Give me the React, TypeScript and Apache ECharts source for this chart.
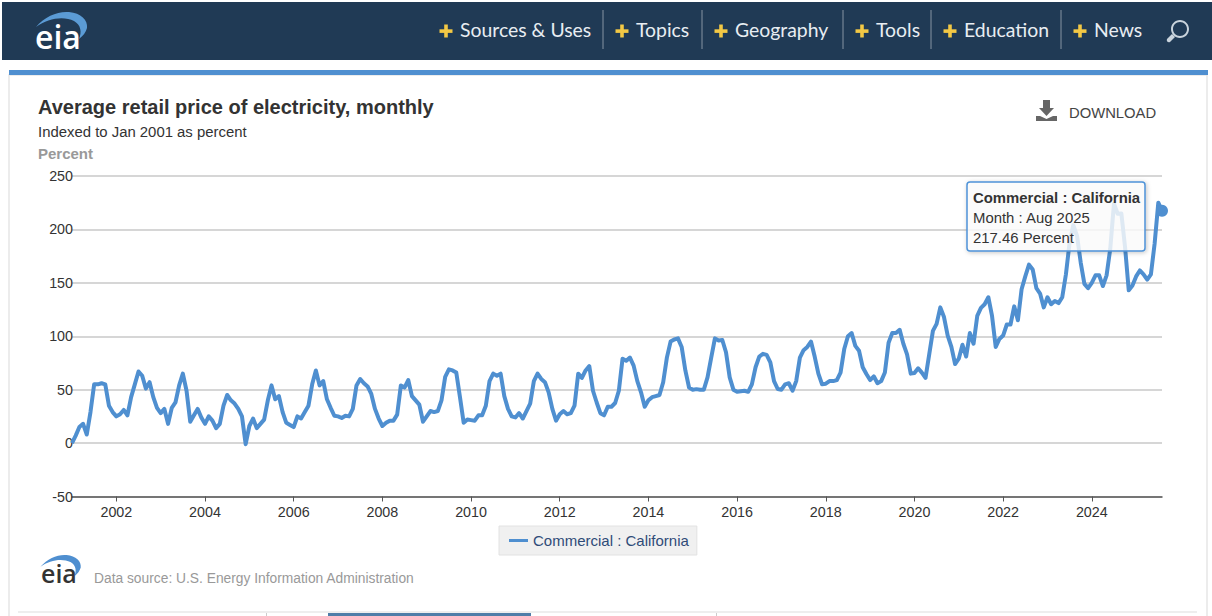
import React, { useEffect, useRef } from "react";
import * as echarts from "echarts";

const seriesName = "Commercial : California";
const startYear = 2001;
const endYear = 2025;
const lastMonth = 8;
const monthNames = ["Jan", "Feb", "Mar", "Apr", "May", "Jun", "Jul", "Aug", "Sep", "Oct", "Nov", "Dec"];

const priceIndex = [
  0, 7, 15, 18, 8, 29, 55, 55, 56, 55, 35, 29,
  25, 27, 31, 26, 43, 55, 67, 63, 51, 57, 43, 33,
  28, 32, 18, 33, 38, 54, 65, 49, 20, 26, 32, 24,
  18, 25, 21, 14, 18, 35, 45, 40, 37, 32, 25, -1,
  16, 23, 14, 18, 22, 40, 54, 41, 44, 29, 19, 17,
  15, 25, 23, 29, 35, 55, 68, 54, 58, 41, 33, 25.6,
  25, 23.5, 25.6, 25, 32, 54, 60, 56, 53, 46, 32, 23,
  16, 19, 21, 21, 26.6, 54, 52, 59, 44, 40, 36, 20,
  25, 30, 29, 30, 40, 62, 69, 68, 66, 43, 19, 22,
  21.5, 21, 26, 26, 35, 58, 65, 63, 65, 44, 32, 25,
  24, 28, 23, 30, 37, 58, 65, 60, 57, 47.5, 32, 21,
  27, 30, 27, 28, 35, 65, 61, 68, 72, 49, 38, 28,
  26, 34, 34, 37.5, 49, 79, 77, 80, 72.5, 58, 47.5, 34,
  40, 43, 44, 45, 57, 80, 95, 97, 98, 90, 68, 52,
  50, 50.5, 50, 50, 61.5, 80, 98, 96, 96.5, 85, 61.5, 50,
  48, 48.5, 49, 48, 55, 71, 81, 83.5, 82.5, 75.6, 58, 50.6,
  50, 55, 56, 49, 58, 80, 87, 90, 95, 81, 65, 55,
  55.6, 58, 58, 59, 66, 88, 100, 103, 91, 86.5, 71, 64.7,
  59, 62.5, 56, 58, 66, 94, 103, 103, 106, 93, 83, 65,
  65.6, 70, 66, 61, 83, 105, 111.6, 127, 118, 100.6, 90, 74,
  79, 92, 81, 103, 93, 119, 126.6, 130, 136.5, 119, 90, 97.5,
  100.6, 111, 111, 128, 115, 144, 156, 167, 162.5, 145, 140, 127,
  136.5, 130, 133, 131, 136.5, 158, 188, 204, 194, 169, 149, 145,
  150, 157, 157, 147, 157, 182, 224, 214.7, 215, 183.4, 143, 147.5,
  156, 161.6, 158, 153, 158, 186.6, 225, 217.46,
];

const months: string[] = [];
for (let y = startYear; y <= endYear; y++) {
  for (let m = 1; m <= 12; m++) {
    if (y === endYear && m > lastMonth) break;
    months.push(`${y}-${String(m).padStart(2, "0")}`);
  }
}

const navItems = ["Sources & Uses", "Topics", "Geography", "Tools", "Education", "News"];
const navTextX = [460, 636, 735, 876, 964, 1094];
const navSeparators = [603, 702, 843, 931, 1061];

const LINE = "#4f8fd0";
const SANS = "'Liberation Sans', Arial, sans-serif";
const NAV_FONT = "Lato, 'Open Sans', sans-serif";

const arcPath =
  "M36 27 C45 16 58 11 69 12 C81 13 88 20 87 28 C86 32 83 36 79 39 C82 32 81 25 74 21 C64 16 48 18 36 27 Z";
const searchPath =
  "M1180 20 C1185 20 1189 24 1189 29 C1189 34 1185 38 1180 38 C1175 38 1171 34 1171 29 C1171 24 1175 20 1180 20 Z M1180 22 C1176 22 1173 25 1173 29 C1173 33 1176 36 1180 36 C1184 36 1187 33 1187 29 C1187 25 1184 22 1180 22 Z";
const handlePath = "M1172 34 L1175 37 L1170 42 C1168 43 1166 41 1167 39 Z";
const downloadPath =
  "M1043 100 L1050 100 L1050 108 L1054 108 L1046.5 116 L1039 108 L1043 108 Z M1036 116 L1040 116 L1046.5 119 L1053 116 L1057 116 L1057 121 L1036 121 Z";

echarts.graphic.registerShape("eiaArc", echarts.graphic.extendPath(arcPath as any, {}) as any);
echarts.graphic.registerShape("searchRing", echarts.graphic.extendPath(searchPath as any, {}) as any);
echarts.graphic.registerShape("searchHandle", echarts.graphic.extendPath(handlePath as any, {}) as any);
echarts.graphic.registerShape("downloadIcon", echarts.graphic.extendPath(downloadPath as any, {}) as any);

function isEvenYearJan(label: string) {
  const [y, m] = label.split("-").map(Number);
  return m === 1 && y % 2 === 0;
}

function buildGraphic() {
  const plus = (cx: number, cy: number) => [
    { type: "rect", z: 5, shape: { x: cx - 6.5, y: cy - 1.7, width: 13, height: 3.6 }, style: { fill: "#f3c845" } },
    { type: "rect", z: 5, shape: { x: cx - 1.8, y: cy - 6.5, width: 3.6, height: 13 }, style: { fill: "#f3c845" } },
  ];
  const els: any[] = [
    { type: "rect", z: -10, shape: { x: 2, y: 2, width: 1210, height: 58 }, style: { fill: "#203a55" } },
    { type: "rect", z: -10, shape: { x: 9, y: 75, width: 1198, height: 545 }, style: { fill: "#fff", stroke: "#e6e6e6", lineWidth: 1.5 } },
    { type: "rect", z: -9, shape: { x: 9, y: 70, width: 1199, height: 5 }, style: { fill: "#4f8fd0" } },
    { type: "rect", z: -9, shape: { x: 18, y: 611, width: 1179, height: 2 }, style: { fill: "#eeeeee" } },
    { type: "rect", z: -8, shape: { x: 328, y: 613, width: 203, height: 3 }, style: { fill: "#4f7da8" } },
    { type: "rect", z: -8, shape: { x: 266, y: 613, width: 1, height: 3 }, style: { fill: "#cccccc" } },
    { type: "rect", z: -8, shape: { x: 716, y: 613, width: 1, height: 3 }, style: { fill: "#cccccc" } },
    { type: "eiaArc", z: 5, style: { fill: "#5b9bd5" } },
    { type: "text", z: 5, style: { text: "eia", x: 35, y: 20, fill: "#fff", font: "600 32px 'Open Sans', sans-serif" } },
    { type: "eiaArc", z: 5, x: 12, y: 545.5, scaleX: 0.79, scaleY: 0.79, style: { fill: "#4f8fd0" } },
    { type: "text", z: 5, style: { text: "eia", x: 41, y: 560, fill: "#333", font: "600 25px 'Open Sans', sans-serif" } },
    { type: "text", z: 5, style: { text: "Data source: U.S. Energy Information Administration", x: 94, y: 571.5, fill: "#999", font: `13.8px ${SANS}` } },
    { type: "downloadIcon", z: 5, style: { fill: "#666" } },
    { type: "text", z: 5, style: { text: "DOWNLOAD", x: 1069, y: 105, fill: "#444", font: `14.8px ${SANS}` } },
    { type: "searchRing", z: 5, style: { fill: "#c9d3dc" } },
    { type: "searchHandle", z: 5, style: { fill: "#c9d3dc" } },
    {
      type: "rect",
      z: 20,
      shape: { x: 967, y: 182, width: 178, height: 69, r: 3 },
      style: {
        fill: "rgba(255,255,255,0.8)",
        stroke: "#4f93d8",
        lineWidth: 1.5,
        shadowBlur: 4,
        shadowColor: "rgba(0,0,0,0.25)",
        shadowOffsetX: 1,
        shadowOffsetY: 1,
      },
    },
    { type: "text", z: 21, style: { text: seriesName, x: 973, y: 190.5, fill: "#333", font: `bold 14.9px ${SANS}` } },
    { type: "text", z: 21, style: { text: `Month : ${monthNames[lastMonth - 1]} ${endYear}`, x: 973, y: 210.5, fill: "#333", font: `14.9px ${SANS}` } },
    { type: "text", z: 21, style: { text: `${priceIndex[priceIndex.length - 1]} Percent`, x: 973, y: 230.5, fill: "#333", font: `14.9px ${SANS}` } },
  ];
  navItems.forEach((label, i) => {
    els.push(...plus(navTextX[i] - 14, 31));
    els.push({ type: "text", z: 5, style: { text: label, x: navTextX[i], y: 20, fill: "#e8edf2", font: `19.4px ${NAV_FONT}` } });
  });
  navSeparators.forEach((x) => {
    els.push({ type: "line", z: 5, shape: { x1: x, y1: 10, x2: x, y2: 49 }, style: { stroke: "#8593a3", lineWidth: 1 } });
  });
  return els;
}

export default function App() {
  const ref = useRef<HTMLDivElement>(null);
  useEffect(() => {
    document.body.style.margin = "0";
    document.body.style.overflow = "hidden";
    const chart = echarts.init(ref.current!, undefined, { renderer: "svg" });
    chart.setOption({
      animation: false,
      backgroundColor: "#fff",
      textStyle: { fontFamily: SANS },
      title: {
        text: "Average retail price of electricity, monthly",
        subtext: "Indexed to Jan 2001 as percent",
        left: 38,
        top: 97,
        padding: 0,
        itemGap: 7,
        textStyle: { fontFamily: SANS, fontSize: 20, fontWeight: "bold", color: "#333" },
        subtextStyle: { fontFamily: SANS, fontSize: 14.9, color: "#333" },
      },
      legend: {
        left: 499,
        top: 526,
        padding: [7, 8, 7, 10],
        icon: "rect",
        itemWidth: 19,
        itemHeight: 3,
        itemGap: 0,
        backgroundColor: "#f0f0f0",
        borderColor: "#e2e2e2",
        borderWidth: 1,
        textStyle: { fontFamily: SANS, fontSize: 15, color: "#2f4b78" },
        data: [seriesName],
      },
      grid: { left: 72, right: 50, top: 176, bottom: 119.5, containLabel: false },
      xAxis: {
        type: "category",
        data: months,
        boundaryGap: false,
        axisLine: { onZero: false, lineStyle: { color: "#555", width: 1.5 } },
        axisTick: { length: 5, interval: (_: number, v: string) => isEvenYearJan(v), lineStyle: { color: "#555", width: 1 } },
        axisLabel: {
          interval: (_: number, v: string) => isEvenYearJan(v),
          formatter: (v: string) => v.slice(0, 4),
          color: "#333",
          fontSize: 14.3,
          margin: 8,
          fontFamily: SANS,
        },
        splitLine: { show: false },
      },
      yAxis: {
        type: "value",
        min: -50,
        max: 250,
        interval: 50,
        name: "Percent",
        nameLocation: "end",
        nameGap: 15,
        nameTextStyle: { align: "left", padding: [0, 0, 0, -34], fontFamily: SANS, fontSize: 15, fontWeight: "bold", color: "#999" },
        axisLine: { show: false },
        axisTick: { show: false },
        axisLabel: { color: "#333", fontSize: 14.3, margin: -1, fontFamily: SANS },
        splitLine: { lineStyle: { color: "#c8c8c8", width: 1.5 } },
      },
      series: [
        {
          type: "line",
          name: seriesName,
          data: priceIndex,
          symbol: "none",
          smooth: false,
          itemStyle: { color: LINE },
          lineStyle: { color: LINE, width: 4, join: "round" },
          markPoint: {
            symbol: "circle",
            symbolSize: 12,
            silent: true,
            itemStyle: { color: LINE },
            label: { show: false },
            data: [{ coord: [months[months.length - 1], priceIndex[priceIndex.length - 1]] }],
          },
        },
      ],
      graphic: buildGraphic(),
    });
    return () => chart.dispose();
  }, []);
  return <div ref={ref} style={{ position: "absolute", left: 0, top: 0, width: 1212, height: 616 }} />;
}
